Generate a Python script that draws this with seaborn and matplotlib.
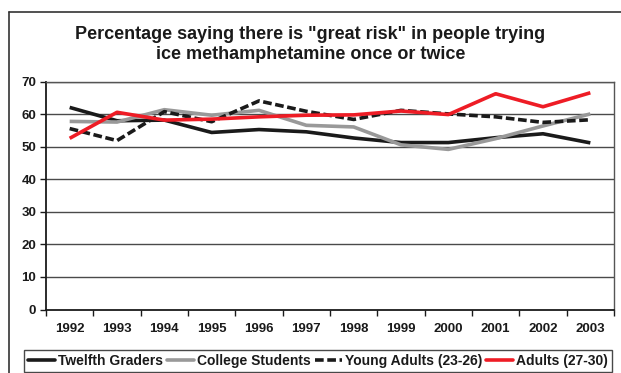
import matplotlib
matplotlib.use("Agg")
import matplotlib.pyplot as plt
import seaborn as sns
import pandas as pd
from matplotlib.lines import Line2D

years = ["1992", "1993", "1994", "1995", "1996", "1997",
         "1998", "1999", "2000", "2001", "2002", "2003"]
twelfth_graders = [62.1, 58.0, 58.2, 54.4, 55.3, 54.6, 52.7, 51.3, 51.3, 52.8, 54.0, 51.2]
college_students = [57.8, 57.6, 61.4, 59.7, 61.2, 56.6, 56.1, 50.6, 49.2, 52.5, 56.4, 60.1]
young_adults = [55.6, 51.9, 60.8, 57.7, 64.1, 60.9, 58.4, 61.2, 60.1, 59.2, 57.5, 58.3]
adults = [52.6, 60.6, 58.2, 58.5, 59.2, 59.7, 59.8, 61.0, 59.9, 66.3, 62.3, 66.6]

series_names = ["Twelfth Graders", "College Students",
                "Young Adults (23-26)", "Adults (27-30)"]
series_values = [twelfth_graders, college_students, young_adults, adults]
colors = ["#1a1a1a", "#999999", "#1a1a1a", "#ee1c25"]
dashes = [(1, 0), (1, 0), (2.4, 1.0), (1, 0)]
LW = 2.6

rows = []
for name, vals in zip(series_names, series_values):
    for i, (yr, v) in enumerate(zip(years, vals)):
        rows.append({"pos": i, "year": yr, "value": v, "group": name})
df = pd.DataFrame(rows)

sns.set_theme(style="white")
plt.rcParams["font.family"] = ["Liberation Sans", "DejaVu Sans"]

fig = plt.figure(figsize=(6.21, 3.73), dpi=100)
ax = fig.add_axes([46 / 621, 1 - 309.5 / 373, (614 - 46) / 621, (309.5 - 81.7) / 373])

sns.lineplot(data=df, x="pos", y="value", hue="group", style="group",
             hue_order=series_names, style_order=series_names,
             palette=dict(zip(series_names, colors)),
             dashes=dict(zip(series_names, dashes)),
             linewidth=LW, ax=ax, legend=False, zorder=3)

ax.set_xlim(-0.5, len(years) - 0.5)
ax.set_ylim(0, 70)
ax.set_yticks(range(0, 71, 10))
ax.set_xticks([i - 0.5 for i in range(len(years) + 1)], minor=False)
ax.set_xticklabels([])
ax.set_xticks(range(len(years)), minor=True)
ax.set_xticklabels(years, minor=True)
ax.set_xlabel("")
ax.set_ylabel("")

for y in range(10, 71, 10):
    ax.axhline(y, color="#4a4a4a", linewidth=1.0, zorder=1)

for side in ["left", "bottom"]:
    ax.spines[side].set_color("#1a1a1a")
    ax.spines[side].set_linewidth(1.3)
for side in ["top", "right"]:
    ax.spines[side].set_color("#555555")
    ax.spines[side].set_linewidth(1.0)

ax.tick_params(axis="y", which="major", left=True, length=4, width=1,
               color="#1a1a1a", labelsize=9.5, pad=3)
ax.tick_params(axis="x", which="major", bottom=True, length=4, width=1,
               color="#1a1a1a")
ax.tick_params(axis="x", which="minor", bottom=False, labelsize=9.5, pad=5.5)
for lbl in ax.get_yticklabels() + ax.get_xticklabels(minor=True):
    lbl.set_fontweight("bold")
    lbl.set_color("#1a1a1a")

fig.text(0.5, 1 - 44.5 / 373,
         'Percentage saying there is "great risk" in people trying\n'
         'ice methamphetamine once or twice',
         ha="center", va="center", fontsize=13, fontweight="bold",
         color="#1a1a1a", linespacing=1.2)

handles = [Line2D([0], [0], color=c, linewidth=LW,
                  linestyle=(0, d) if d != (1, 0) else "-")
           for c, d in zip(colors, dashes)]
leg = fig.legend(handles, series_names, loc="center",
                 bbox_to_anchor=(318 / 621, 1 - 361 / 373),
                 ncol=4, frameon=True, fancybox=False, handlelength=1.95,
                 handletextpad=0.2, columnspacing=0.3, borderpad=0.3,
                 borderaxespad=0.0,
                 prop={"weight": "bold", "size": 10})
leg.get_frame().set_edgecolor("#1a1a1a")
leg.get_frame().set_linewidth(1.0)
for t in leg.get_texts():
    t.set_color("#1a1a1a")

# outer frame around the chart (left and top edges)
fig.add_artist(Line2D([9 / 621, 9 / 621], [0, 1 - 12 / 373],
                      transform=fig.transFigure, color="#333333", linewidth=1.2))
fig.add_artist(Line2D([9 / 621, 1], [1 - 12 / 373, 1 - 12 / 373],
                      transform=fig.transFigure, color="#333333", linewidth=1.2))

fig.savefig("out.png", dpi=100)
